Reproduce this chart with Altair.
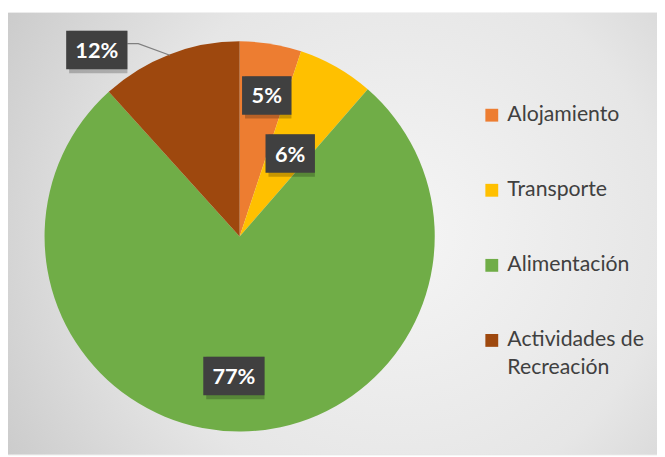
import altair as alt
import pandas as pd
import numpy as np

categories = ["Alojamiento", "Transporte", "Alimentación", "Actividades de Recreación"]
values = [5.1, 6.3, 76.9, 11.7]
labels = ["5%", "6%", "77%", "12%"]
colors = ["#ED7D31", "#FFC000", "#70AD47", "#9E480E"]

W, H = 657, 447
R = 196.5
CX, CY = 234.5, 226.5

# label placement: (fraction of radius, angle shift in degrees)
label_place = {
    "Alojamiento": (0.74, 1.7),
    "Transporte": (0.50, 1.7),
    "Alimentación": (0.72, 2.9),
    "Actividades de Recreación": (1.21, -16.4),
}

df = pd.DataFrame({"cat": categories, "value": values, "label": labels, "order": list(range(len(categories)))})
tot = df["value"].sum()
end = df["value"].cumsum() / tot * 360
start = end - df["value"] / tot * 360
mid = (start + end) / 2
rf = np.array([label_place[c][0] for c in categories])
sh = np.array([label_place[c][1] for c in categories])
ang = np.radians(mid + sh)
df["lx"] = rf * np.sin(ang)
df["ly"] = rf * np.cos(ang)
hw = (26 + 12 * df["label"].str.len()) / 2 / R
hh = 19.5 / R
df["x0"] = df["lx"] - hw
df["x1"] = df["lx"] + hw
df["y0"] = df["ly"] - hh
df["y1"] = df["ly"] + hh

# leader line for the outside label
i = categories.index("Actividades de Recreación")
mr = np.radians(mid[i])
ax_, ay_ = df.loc[i, "x1"], df.loc[i, "ly"] + 6.5 / R
lead = pd.DataFrame({
    "x": [ax_, ax_ + 11 / R, np.sin(mr)],
    "y": [ay_, ay_, np.cos(mr)],
    "k": [0, 1, 2],
})

xs = alt.Scale(domain=[-CX / R, (W - CX) / R], nice=False, zero=False)
ys = alt.Scale(domain=[-(H - CY) / R, CY / R], nice=False, zero=False)

bg = alt.Chart(alt.Data(values=[{"a": 1}])).mark_rect(
    fill=alt.Gradient(
        gradient="radial",
        stops=[alt.GradientStop(offset=0, color="#f5f5f5"),
               alt.GradientStop(offset=0.55, color="#e6e6e6"),
               alt.GradientStop(offset=1, color="#c6c6c6")],
        x1=0.6, y1=0.5, x2=0.6, y2=0.5, r1=0, r2=0.75,
    )
).encode(x=alt.value(0), x2=alt.value(W), y=alt.value(0), y2=alt.value(H))

pie = alt.Chart(df).mark_arc(radius=R + 1).encode(
    theta=alt.Theta("value:Q", stack=True),
    order=alt.Order("order:Q"),
    color=alt.Color(
        "cat:N",
        scale=alt.Scale(domain=categories, range=colors),
        legend=alt.Legend(
            title=None, orient="none", legendX=479, legendY=93,
            symbolType="square", symbolSize=169, symbolStrokeWidth=0,
            labelFont="Lato", labelFontSize=21.5, labelColor="#404040",
            labelLimit=400, rowPadding=53, labelOffset=5,
            labelExpr="datum.label == 'Actividades de Recreación' ? ['Actividades de', 'Recreación'] : datum.label",
        ),
    ),
    x=alt.X(datum=0, type="quantitative", scale=xs, axis=None),
    y=alt.Y(datum=0, type="quantitative", scale=ys, axis=None),
)

line = alt.Chart(lead).mark_line(color="#7f7f7f", strokeWidth=1.2).encode(
    x=alt.X("x:Q", scale=xs, axis=None),
    y=alt.Y("y:Q", scale=ys, axis=None),
    order="k:Q",
)

shadow = alt.Chart(df).mark_rect(fill="#000000", opacity=0.22, xOffset=3, yOffset=4).encode(
    x=alt.X("x0:Q", scale=xs, axis=None), x2="x1:Q",
    y=alt.Y("y0:Q", scale=ys, axis=None), y2="y1:Q",
)

box = alt.Chart(df).mark_rect(fill="#404040").encode(
    x=alt.X("x0:Q", scale=xs, axis=None), x2="x1:Q",
    y=alt.Y("y0:Q", scale=ys, axis=None), y2="y1:Q",
)

txt = alt.Chart(df).mark_text(
    font="Lato", fontSize=22, fontWeight="bold", color="white", baseline="middle", align="center", dy=1
).encode(
    x=alt.X("lx:Q", scale=xs, axis=None),
    y=alt.Y("ly:Q", scale=ys, axis=None),
    text="label:N",
)

chart = alt.layer(bg, pie, line, shadow, box, txt).properties(
    width=W, height=H,
    autosize=alt.AutoSizeParams(type="none"),
    padding={"left": 0, "top": 2, "right": 0, "bottom": 0},
).configure_view(stroke=None).configure(style={"guide-label": {"lineHeight": 28}})

chart.save("out.html", embed_options={"renderer": "svg", "actions": False})
